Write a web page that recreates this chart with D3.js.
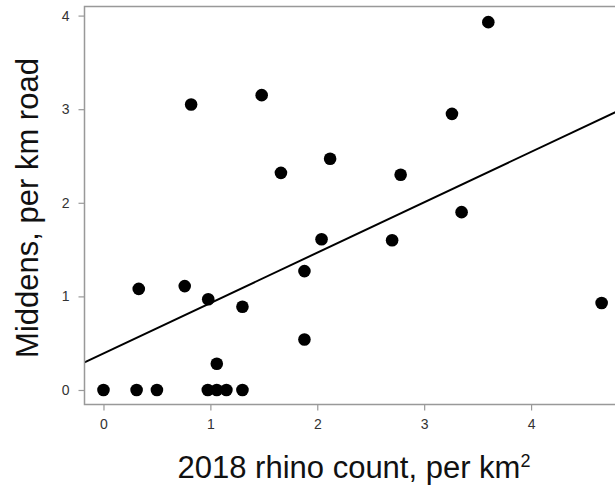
<!DOCTYPE html>
<html>
<head>
<meta charset="utf-8">
<script src="https://cdn.jsdelivr.net/npm/d3@7"></script>
<style>
  body { margin: 0; background: #fff; }
  svg { display: block; font-family: "Liberation Sans", Arial, Helvetica, sans-serif; }
</style>
</head>
<body>
<div id="mount"></div>
<script>
// rhino density (per km2) vs midden density (per km road), one point per site
var rhinoCount = [0, 0.31, 0.50, 0.976, 1.06, 1.15, 1.30, 1.06, 0.33, 0.76, 0.98, 1.30,
                  0.82, 1.48, 1.66, 2.12, 2.04, 1.88, 1.88, 2.70, 2.78, 3.26, 3.35, 3.60, 4.66];
var middens    = [0, 0, 0, 0, 0, 0, 0, 0.28, 1.08, 1.11, 0.97, 0.89,
                  3.05, 3.15, 2.32, 2.47, 1.61, 1.27, 0.54, 1.60, 2.30, 2.95, 1.90, 3.93, 0.93];
var xTicks = [0, 1, 2, 3, 4];
var yTicks = [0, 1, 2, 3, 4];

var W = 615, H = 486;
var box = { left: 84.5, top: 6.5, bottom: 404.5, right: 628 };

var svg = d3.select('#mount').append('svg')
    .attr('width', W)
    .attr('height', H);

var x = d3.scaleLinear()
    .domain([-0.1775, 4.9])
    .range([box.left, box.left + 5.0775 * 106.9]);

var y = d3.scaleLinear()
    .domain([-0.155, 4.1])
    .range([box.bottom, box.bottom - 4.255 * 93.6]);

var data = rhinoCount.map((d, i) => ({ x: d, y: middens[i] }));

// least squares fit, drawn across the whole panel like abline()
var mx = d3.mean(rhinoCount), my = d3.mean(middens);
var sxy = d3.sum(data, d => (d.x - mx) * (d.y - my));
var sxx = d3.sum(data, d => (d.x - mx) * (d.x - mx));
var slope = sxy / sxx, intercept = my - slope * mx;

svg.append('clipPath').attr('id', 'clip')
  .append('rect')
    .attr('x', box.left).attr('y', box.top)
    .attr('width', box.right - box.left).attr('height', box.bottom - box.top);

var xd = x.domain();
svg.append('line')
    .attr('clip-path', 'url(#clip)')
    .attr('x1', x(xd[0])).attr('y1', y(intercept + slope * xd[0]))
    .attr('x2', x(xd[1])).attr('y2', y(intercept + slope * xd[1]))
    .attr('stroke', '#000')
    .attr('stroke-width', 2);

svg.selectAll('.point')
    .data(data)
  .enter().append('circle')
    .attr('class', 'point')
    .attr('r', 6.3)
    .attr('cx', d => x(d.x))
    .attr('cy', d => y(d.y))
    .style('fill', '#000');

// panel border (right side runs off the page)
svg.append('path')
    .attr('d', `M${box.right},${box.top}H${box.left}V${box.bottom}H${box.right}`)
    .attr('fill', 'none')
    .attr('stroke', '#999')
    .attr('stroke-width', 1.5);

var fmt = d3.format('d');
var xAxis = svg.append('g')
    .attr('transform', `translate(0,${box.bottom})`)
    .call(d3.axisBottom(x).tickValues(xTicks).tickFormat(fmt).tickSize(6).tickPadding(9));
var yAxis = svg.append('g')
    .attr('transform', `translate(${box.left},0)`)
    .call(d3.axisLeft(y).tickValues(yTicks).tickFormat(fmt).tickSize(6).tickPadding(9));

[xAxis, yAxis].forEach(g => {
  g.select('.domain').remove();
  g.selectAll('.tick line').attr('stroke', '#999').attr('stroke-width', 1.2);
  g.selectAll('.tick text')
      .attr('fill', '#333')
      .style('font-size', '14px')
      .style('font-family', '"Liberation Sans", Arial, sans-serif');
});

var xTitle = svg.append('text')
    .attr('x', 354)
    .attr('y', 478)
    .attr('text-anchor', 'middle')
    .style('font-size', '31px')
    .attr('fill', '#111');
xTitle.append('tspan').text('2018 rhino count, per km');
xTitle.append('tspan').attr('dy', -11).style('font-size', '18px').text('2');

svg.append('text')
    .attr('transform', 'translate(38,208) rotate(-90)')
    .attr('text-anchor', 'middle')
    .style('font-size', '31px')
    .attr('fill', '#111')
    .text('Middens, per km road');
</script>
</body>
</html>
